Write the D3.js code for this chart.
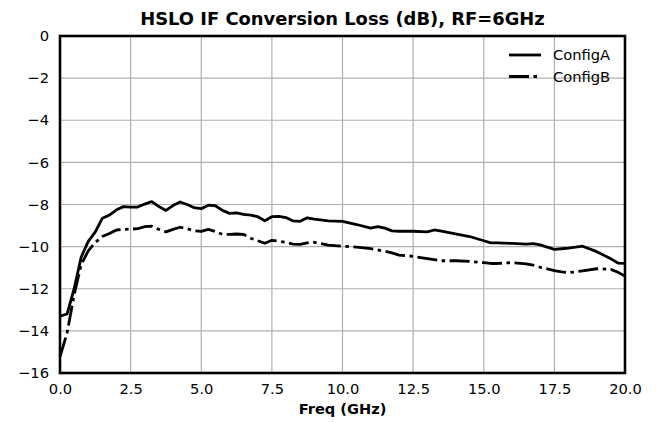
<!DOCTYPE html>
<html>
<head>
<meta charset="utf-8">
<script src="https://cdn.jsdelivr.net/npm/d3@7"></script>
<style>
	body { margin: 0; background: #fff; }
	svg text { font-family: "DejaVu Sans", sans-serif; fill: #000; }
</style>
</head>
<body>
<svg id="plot" width="659" height="422" viewBox="0 0 659 422"></svg>
<script>
// values
const freq = [0, 0.25, 0.5, 0.75, 1.0, 1.25, 1.5, 1.75, 2.0, 2.25, 2.5, 2.75, 3.0, 3.25, 3.5, 3.75,
	4.0, 4.25, 4.5, 4.75, 5.0, 5.25, 5.5, 5.75, 6.0, 6.25, 6.5, 6.75, 7.0, 7.25, 7.5, 7.75,
	8.0, 8.25, 8.5, 8.75, 9.0, 9.5, 10.0, 10.5, 11.0, 11.25, 11.5, 11.75, 12.0, 12.5, 13.0, 13.25,
	13.5, 14.0, 14.5, 15.0, 15.25, 15.5, 16.0, 16.5, 16.75, 17.0, 17.5, 17.75, 18.0, 18.5, 19.0,
	19.5, 19.75, 20.0];

const configA = [-13.3, -13.2, -12.0, -10.5, -9.75, -9.3, -8.65, -8.5, -8.25, -8.1, -8.12, -8.12, -7.98, -7.86, -8.1, -8.28,
	-8.05, -7.88, -8.0, -8.15, -8.2, -8.03, -8.06, -8.28, -8.42, -8.4, -8.47, -8.5, -8.58, -8.77, -8.58, -8.56,
	-8.62, -8.78, -8.8, -8.63, -8.69, -8.78, -8.8, -8.95, -9.12, -9.05, -9.12, -9.25, -9.27, -9.27, -9.3, -9.21,
	-9.26, -9.4, -9.52, -9.72, -9.82, -9.82, -9.85, -9.88, -9.86, -9.92, -10.13, -10.1, -10.07, -9.98, -10.24,
	-10.58, -10.78, -10.8];

const configB = [-15.23, -14.1, -12.3, -10.85, -10.2, -9.8, -9.52, -9.38, -9.21, -9.18, -9.17, -9.15, -9.05, -9.03, -9.18, -9.3,
	-9.18, -9.08, -9.15, -9.25, -9.28, -9.18, -9.28, -9.42, -9.42, -9.4, -9.42, -9.6, -9.72, -9.84, -9.7, -9.74,
	-9.8, -9.88, -9.89, -9.82, -9.8, -9.93, -9.98, -10.02, -10.1, -10.16, -10.22, -10.3, -10.4, -10.46, -10.57, -10.62,
	-10.67, -10.67, -10.7, -10.76, -10.8, -10.8, -10.76, -10.82, -10.88, -10.98, -11.14, -11.2, -11.24, -11.15, -11.05,
	-11.08, -11.22, -11.4];

const xTicks = [0, 2.5, 5, 7.5, 10, 12.5, 15, 17.5, 20];
const yTicks = [0, -2, -4, -6, -8, -10, -12, -14, -16];
const seriesNames = ["ConfigA", "ConfigB"];
const dashes = [null, "20,4.5,3.5,4.5"];

const svg = d3.select("#plot");
const margin = {top: 36, right: 34, bottom: 49, left: 60};
const width = 659 - margin.left - margin.right;
const height = 422 - margin.top - margin.bottom;

const x = d3.scaleLinear().domain([0, 20]).range([margin.left, margin.left + width]);
const y = d3.scaleLinear().domain([-16, 0]).range([margin.top + height, margin.top]);

// grid
const grid = svg.append("g");
grid.selectAll(".vgrid").data(xTicks).enter().append("line")
	.attr("x1", d => x(d)).attr("x2", d => x(d))
	.attr("y1", y(-16)).attr("y2", y(0))
	.attr("stroke", "#b0b0b0").attr("stroke-width", 1.2);
grid.selectAll(".hgrid").data(yTicks).enter().append("line")
	.attr("x1", x(0)).attr("x2", x(20))
	.attr("y1", d => y(d)).attr("y2", d => y(d))
	.attr("stroke", "#b0b0b0").attr("stroke-width", 1.2);

// curves
const line = d3.line().x(d => x(d[0])).y(d => y(d[1]));
[configA, configB].forEach((vals, i) => {
	svg.append("path")
		.datum(freq.map((f, j) => [f, vals[j]]))
		.attr("d", line)
		.attr("fill", "none")
		.attr("stroke", "#000")
		.attr("stroke-width", 2.8)
		.attr("stroke-linejoin", "round")
		.attr("stroke-dasharray", dashes[i]);
});

// axes (labels only, no tick marks)
const xAxis = svg.append("g")
	.attr("transform", "translate(0," + (margin.top + height) + ")")
	.call(d3.axisBottom(x).tickValues(xTicks).tickFormat(d3.format(".1f")).tickSize(0).tickPadding(11));
const yAxis = svg.append("g")
	.attr("transform", "translate(" + margin.left + ",0)")
	.call(d3.axisLeft(y).tickValues(yTicks).tickFormat(d => d < 0 ? "\u2212" + Math.abs(d) : d).tickSize(0).tickPadding(11));
[xAxis, yAxis].forEach(a => {
	a.select(".domain").remove();
	a.selectAll("text").style("font-size", "14.7px").style("font-family", "DejaVu Sans, sans-serif");
});

// frame
svg.append("rect")
	.attr("x", x(0)).attr("y", y(0))
	.attr("width", width).attr("height", height)
	.attr("fill", "none").attr("stroke", "#000").attr("stroke-width", 2.6);

// title and label
svg.append("text")
	.attr("x", margin.left + width / 2).attr("y", 25)
	.attr("text-anchor", "middle")
	.style("font-size", "17.9px").style("font-weight", "bold")
	.text("HSLO IF Conversion Loss (dB), RF=6GHz");
svg.append("text")
	.attr("x", margin.left + width / 2).attr("y", 414)
	.attr("text-anchor", "middle")
	.style("font-size", "14.6px").style("font-weight", "bold")
	.text("Freq (GHz)");

// legend
const legend = svg.append("g").attr("transform", "translate(509,55)");
seriesNames.forEach((name, i) => {
	legend.append("line")
		.attr("x1", 0).attr("x2", 32)
		.attr("y1", i * 21.5).attr("y2", i * 21.5)
		.attr("stroke", "#000").attr("stroke-width", 2.8)
		.attr("stroke-dasharray", dashes[i]);
	legend.append("text")
		.attr("x", 44).attr("y", i * 21.5)
		.attr("dy", "0.35em")
		.style("font-size", "14.7px")
		.text(name);
});
</script>
</body>
</html>
